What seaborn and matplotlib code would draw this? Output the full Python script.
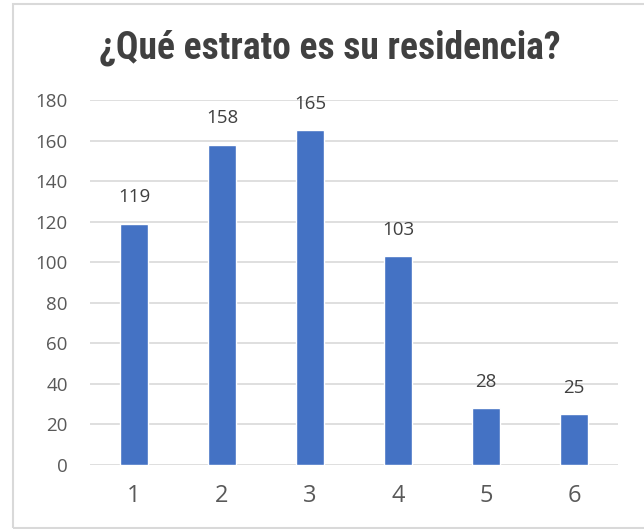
import matplotlib
matplotlib.use("Agg")
import matplotlib.pyplot as plt
import seaborn as sns
import pandas as pd
from matplotlib.patches import Rectangle
from matplotlib import font_manager

categories = ["1", "2", "3", "4", "5", "6"]
values = [119, 158, 165, 103, 28, 25]
title = "¿Qué estrato es su residencia?"
yticks = [0, 20, 40, 60, 80, 100, 120, 140, 160, 180]

sns.set_theme(style="white")
plt.rcParams['font.family'] = ['Open Sans', 'DejaVu Sans']

names = {f.name for f in font_manager.fontManager.ttflist}
title_font, title_size = 'Liberation Sans', 22
for cand in ['Liberation Sans Narrow', 'Roboto Condensed', 'Open Sans Condensed', 'Arial Narrow']:
    if cand in names:
        title_font, title_size = cand, 27
        break

df = pd.DataFrame({"cat": categories, "val": values})

fig = plt.figure(figsize=(6.44, 5.29), dpi=100)
ax = fig.add_axes([90/644, 1-465/529, 528/644, 365/529])

sns.barplot(data=df, x="cat", y="val", color="#4472C4", width=0.31,
            saturation=1, ax=ax, zorder=3)

ax.set_ylim(0, 180)
ax.set_yticks(yticks)
ax.yaxis.grid(True, color="#D9D9D9", linewidth=1.2, zorder=0)
ax.set_axisbelow(True)
for s in ax.spines.values():
    s.set_visible(False)
ax.set_xlabel("")
ax.set_ylabel("")
ax.tick_params(axis='y', labelsize=13.5, colors="#595959", length=0, pad=16)
ax.tick_params(axis='x', labelsize=17, colors="#595959", length=0, pad=14)

for i, v in enumerate(values):
    ax.annotate(str(v), (i, v), xytext=(0, 19), textcoords="offset points",
                ha="center", va="center", fontsize=13.5, color="#404040")

fig.text(330/644, 1-48/529, title, ha="center", va="center",
         fontsize=title_size, fontweight="bold", color="#404040", family=title_font)

fig.patches.append(Rectangle((13/644, 1/529), 1.2, 1-5/529,
                             transform=fig.transFigure, fill=False,
                             edgecolor="#D9D9D9", linewidth=1.5))

fig.savefig("out.png", dpi=100)
